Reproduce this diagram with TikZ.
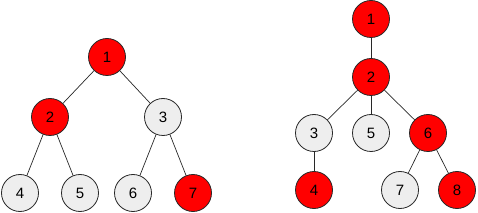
\documentclass[tikz,border=0pt]{standalone}
\usepackage{fontspec}
\setmainfont{Liberation Sans}
\definecolor{lgray}{RGB}{238,238,238}
\definecolor{edgec}{RGB}{40,40,40}
\begin{document}
\begin{tikzpicture}[x=1pt,y=-1pt,
  vx/.style={circle,draw=edgec,line width=0.8pt,minimum size=37pt,inner sep=0pt,font=\fontsize{15}{15}\selectfont},
  rv/.style={vx,fill=red},
  gv/.style={vx,fill=lgray},
  ed/.style={draw=edgec,line width=0.7pt}]
\useasboundingbox (0,0) rectangle (478,213);
% left tree
\node[rv] (a1) at (107,57) {1};
\node[rv] (a2) at (50,117) {2};
\node[gv] (a3) at (163,117) {3};
\node[gv] (a4) at (20,193) {4};
\node[gv] (a5) at (80,193) {5};
\node[gv] (a6) at (133,193) {6};
\node[rv] (a7) at (193,193) {7};
\draw[ed] (a1) -- (a2);
\draw[ed] (a1) -- (a3);
\draw[ed] (a2) -- (a4);
\draw[ed] (a2) -- (a5);
\draw[ed] (a3) -- (a6);
\draw[ed] (a3) -- (a7);
% right tree
\node[rv] (b1) at (371,19) {1};
\node[rv] (b2) at (371,77) {2};
\node[gv] (b3) at (314,133) {3};
\node[gv] (b5) at (371,133) {5};
\node[rv] (b6) at (428,133) {6};
\node[rv] (b4) at (314,190) {4};
\node[gv] (b7) at (400,190) {7};
\node[rv] (b8) at (457,190) {8};
\draw[ed] (b1) -- (b2);
\draw[ed] (b2) -- (b3);
\draw[ed] (b2) -- (b5);
\draw[ed] (b2) -- (b6);
\draw[ed] (b3) -- (b4);
\draw[ed] (b6) -- (b7);
\draw[ed] (b6) -- (b8);
\end{tikzpicture}
\end{document}
